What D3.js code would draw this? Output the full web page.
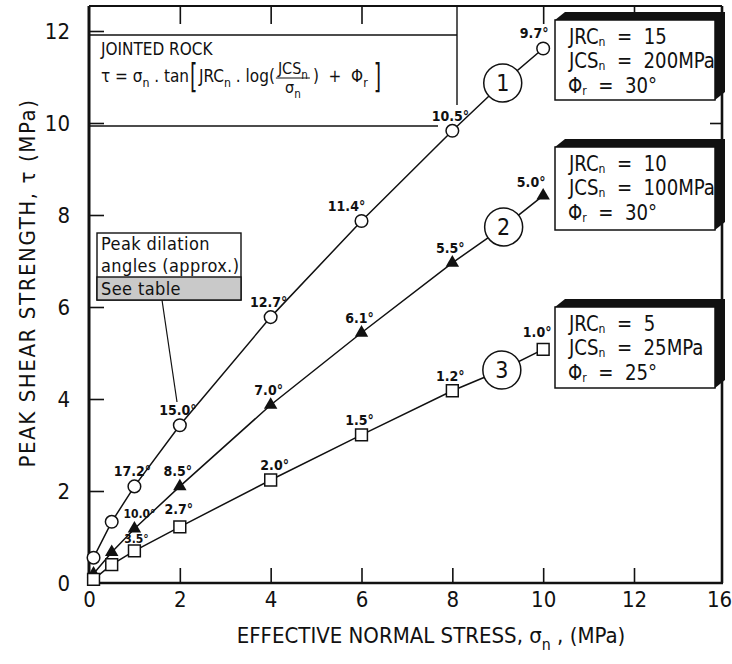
<!DOCTYPE html>
<html><head><meta charset="utf-8">
<script src="https://cdn.jsdelivr.net/npm/d3@7"></script>
<style>
body{margin:0;background:#fff}
svg{display:block}
text{font-family:'Liberation Sans Narrow','DejaVu Sans Condensed','Liberation Sans',sans-serif;font-stretch:condensed;white-space:pre;fill:#111}
</style>
</head><body>
<svg id="c" width="732" height="664"></svg>
<script>
// ---------------- data ----------------
const sigmaN = [0.1, 0.5, 1, 2, 4, 6, 8, 10];
const tau1 = [0.55, 1.33, 2.10, 3.43, 5.78, 7.87, 9.83, 11.62];
const tau2 = [0.20, 0.67, 1.18, 2.10, 3.87, 5.44, 6.96, 8.42];
const tau3 = [0.08, 0.40, 0.70, 1.22, 2.24, 3.22, 4.18, 5.08];
const angles1 = ["", "", "17.2°", "15.0°", "12.7°", "11.4°", "10.5°", "9.7°"];
const angles2 = ["", "", "10.0°", "8.5°", "7.0°", "6.1°", "5.5°", "5.0°"];
const angles3 = ["", "", "3.5°", "2.7°", "2.0°", "1.5°", "1.2°", "1.0°"];
const curveIds = ["1", "2", "3"];
const curveIdX = [9.11, 9.13, 9.09];
const curveIdY = [10.87, 7.74, 4.63];
const jrcN = [15, 10, 5];
const jcsN = [200, 100, 25];
const phiR = [30, 30, 25];
const xTicks = [0, 2, 4, 6, 8, 10, 12, 16];
const yTicks = [0, 2, 4, 6, 8, 10, 12];

// ---------------- setup ----------------
const svg = d3.select("#c");
const x = d3.scaleLinear().domain([0, 12, 16]).range([89, 634, 722]);
const y = d3.scaleLinear().domain([0, 12]).range([583, 31]);
const TOP = 6;

function rich(parent, px, py, parts, size, anchor) {
  const t = parent.append("text").attr("x", px).attr("y", py)
    .attr("font-size", size).attr("text-anchor", anchor || "start");
  let shift = 0;
  parts.forEach(p => {
    const s = typeof p === "string" ? {t: p} : p;
    const target = s.sub ? size * 0.32 : 0;
    const ts = t.append("tspan").text(s.t).attr("dy", target - shift);
    if (s.sub) ts.attr("font-size", size * 0.72);
    shift = target;
  });
  return t;
}

// ---------------- axes ----------------
const gx = svg.append("g").attr("transform", `translate(0,${y(0)})`)
  .call(d3.axisBottom(x).tickValues(xTicks).tickSizeInner(-15).tickSizeOuter(0).tickPadding(8).tickFormat(d3.format("d")));
gx.select(".domain").remove();
gx.selectAll(".tick line").attr("stroke", "#111").attr("stroke-width", 1.6)
  .filter(d => d === 0 || d === 16).remove();
gx.selectAll(".tick text").attr("font-size", 22).attr("font-family", null)
  .filter(d => d === 16).attr("dx", -3);

const gy = svg.append("g").attr("transform", `translate(${x(0)},0)`)
  .call(d3.axisLeft(y).tickValues(yTicks).tickSizeInner(-15).tickSizeOuter(0).tickPadding(19).tickFormat(d3.format("d")));
gy.select(".domain").remove();
gy.selectAll(".tick line").attr("stroke", "#111").attr("stroke-width", 1.6)
  .filter(d => d === 0).remove();
gy.selectAll(".tick text").attr("font-size", 22).attr("font-family", null);

const gt = svg.append("g").attr("transform", `translate(0,${TOP})`)
  .call(d3.axisTop(x).tickValues([2, 4, 6, 10, 12]).tickSizeInner(-18).tickSizeOuter(0).tickFormat(""));
gt.select(".domain").remove();
gt.selectAll(".tick line").attr("stroke", "#111").attr("stroke-width", 1.6);

const gr = svg.append("g").attr("transform", `translate(${x(16)},0)`)
  .call(d3.axisRight(y).tickValues([10]).tickSizeInner(-12).tickSizeOuter(0).tickFormat(""));
gr.select(".domain").remove();
gr.selectAll(".tick line").attr("stroke", "#111").attr("stroke-width", 1.6);

// frame
const frame = svg.append("g").attr("stroke", "#111").attr("fill", "none");
frame.append("line").attr("x1", x(0)).attr("x2", x(0)).attr("y1", TOP).attr("y2", y(0) + 1).attr("stroke-width", 3);
frame.append("line").attr("x1", x(0) - 1).attr("x2", x(16) + 1).attr("y1", y(0)).attr("y2", y(0)).attr("stroke-width", 2.6);
frame.append("line").attr("x1", x(16)).attr("x2", x(16)).attr("y1", TOP).attr("y2", y(0)).attr("stroke-width", 2.6);
frame.append("line").attr("x1", x(0)).attr("x2", x(16)).attr("y1", TOP).attr("y2", TOP).attr("stroke-width", 1.8);

// axis titles
rich(svg, 431, 643, ["EFFECTIVE NORMAL STRESS, σ", {t: "n", sub: true}, " , (MPa)"], 22, "middle");
const yt = svg.append("g").attr("transform", "translate(35,283) rotate(-90)");
rich(yt, 0, 0, ["PEAK SHEAR STRENGTH, τ (MPa)"], 22, "middle").attr("letter-spacing", 1.6);

// ---------------- formula box ----------------
const fb = svg.append("g").attr("stroke", "#111").attr("stroke-width", 1.4);
fb.append("line").attr("x1", x(0)).attr("x2", 457).attr("y1", 35).attr("y2", 35);
fb.append("line").attr("x1", 457).attr("x2", 457).attr("y1", TOP).attr("y2", 105);
fb.append("line").attr("x1", x(0)).attr("x2", 438).attr("y1", 126).attr("y2", 126);
rich(svg, 101, 55, ["JOINTED ROCK"], 17);
const f1 = rich(svg, 101, 82, ["τ = σ", {t: "n", sub: true}, " . tan"], 17);
let fx = 101 + f1.node().getComputedTextLength() + 1;
svg.append("text").attr("x", fx).attr("y", 88).attr("font-size", 30).text("[")
  .attr("transform", `translate(${fx},88) scale(0.7,1.15) translate(${-fx},-88)`);
fx += 9;
const f2 = rich(svg, fx, 82, ["JRC", {t: "n", sub: true}, " . log("], 17);
fx += f2.node().getComputedTextLength() + 1;
const num = rich(svg, fx + 2, 74, ["JCS", {t: "n", sub: true}], 16);
const numW = num.node().getComputedTextLength() + 4;
svg.append("line").attr("x1", fx).attr("x2", fx + numW).attr("y1", 78).attr("y2", 78).attr("stroke", "#111").attr("stroke-width", 1.2);
rich(svg, fx + numW / 2, 93, ["σ", {t: "n", sub: true}], 16, "middle");
fx += numW + 3;
const f3 = rich(svg, fx, 82, [")  +  Φ", {t: "r", sub: true}], 17);
fx += f3.node().getComputedTextLength() + 6;
svg.append("text").attr("x", fx).attr("y", 88).attr("font-size", 30).text("]")
  .attr("transform", `translate(${fx},88) scale(0.7,1.15) translate(${-fx},-88)`);

// ---------------- peak dilation box ----------------
const pb = svg.append("g");
pb.append("line").attr("x1", 162).attr("y1", 300).attr("x2", 177).attr("y2", 402).attr("stroke", "#111").attr("stroke-width", 1.2);
pb.append("rect").attr("x", 97).attr("y", 233).attr("width", 144).attr("height", 67).attr("fill", "#fff").attr("stroke", "#111").attr("stroke-width", 1.4);
pb.append("rect").attr("x", 97).attr("y", 277).attr("width", 144).attr("height", 23).attr("fill", "#c9c9c9").attr("stroke", "#111").attr("stroke-width", 1.4);
rich(pb, 101, 250, ["Peak dilation"], 18).attr("letter-spacing", 0.4);
rich(pb, 101, 272, ["angles (approx.)"], 18).attr("letter-spacing", 0.4);
rich(pb, 101, 295, ["See table"], 18).attr("letter-spacing", 0.4);

// ---------------- series ----------------
const series = [
  {tau: tau1, ang: angles1, mark: "circle"},
  {tau: tau2, ang: angles2, mark: "triangle"},
  {tau: tau3, ang: angles3, mark: "square"}
];
const nudges = [
  {5: [-13, 0], 7: [-7, 0]},
  {2: [7, -1], 7: [-10, 1]},
  {2: [4, 2], 3: [1, -3], 4: [6, 0], 7: [-4, -2]}
];
const line = d3.line().x(d => x(d[0])).y(d => y(d[1]));
series.forEach((s, si) => {
  const pts = sigmaN.map((v, i) => [v, s.tau[i]]);
  const path = pts.slice(0, 7).concat([[curveIdX[si], curveIdY[si]]], pts.slice(7));
  svg.append("path").attr("d", line(path)).attr("fill", "none").attr("stroke", "#111").attr("stroke-width", 1.5);
});
series.forEach((s, si) => {
  const g = svg.append("g");
  sigmaN.forEach((v, i) => {
    const cx = x(v), cy = y(s.tau[i]);
    if (s.mark === "circle") {
      g.append("circle").attr("cx", cx).attr("cy", cy).attr("r", 6.3).attr("fill", "#fff").attr("stroke", "#111").attr("stroke-width", 1.5);
    } else if (s.mark === "triangle") {
      g.append("path").attr("d", d3.symbol(d3.symbolTriangle, 78)()).attr("transform", `translate(${cx},${cy})`).attr("fill", "#111");
    } else {
      g.append("path").attr("d", d3.symbol(d3.symbolSquare, 140)()).attr("transform", `translate(${cx},${cy})`).attr("fill", "#fff").attr("stroke", "#111").attr("stroke-width", 1.5);
    }
    if (s.ang[i]) {
      const nd = nudges[si][i] || [0, 0];
      g.append("text").attr("x", cx - 2 + nd[0]).attr("y", cy - 10 + nd[1]).attr("text-anchor", "middle")
        .attr("font-size", (si === 1 && i === 2) || (si === 2 && i === 2) ? 12 : 14).attr("font-weight", "bold").text(s.ang[i]);
    }
  });
  // curve id circle
  const ccx = x(curveIdX[si]), ccy = y(curveIdY[si]);
  g.append("circle").attr("cx", ccx).attr("cy", ccy).attr("r", 19).attr("fill", "#fff").attr("stroke", "#111").attr("stroke-width", 1.5);
  g.append("text").attr("x", ccx).attr("y", ccy + 8).attr("text-anchor", "middle").attr("font-size", 23).text(curveIds[si]);
});

// ---------------- parameter boxes ----------------
const boxY = [[20, 100], [147, 230], [307, 388]];
const bx0 = 555, bx1 = 715, dX = 10, dY = 8;
let sx = null;
boxY.forEach((b, i) => {
  const [y0, y1] = b;
  const g = svg.append("g");
  g.append("polygon").attr("points", [[bx0, y0], [bx0 + dX, y0 - dY], [bx1 + dX, y0 - dY], [bx1 + dX, y1 - dY], [bx1, y1]].map(p => p.join(",")).join(" ")).attr("fill", "#111");
  g.append("rect").attr("x", bx0).attr("y", y0).attr("width", bx1 - bx0).attr("height", y1 - y0).attr("fill", "#fff").attr("stroke", "#111").attr("stroke-width", 1.5);
  const fs = 20, sub = 2.5, subFs = 12;
  const tg = g.append("g");
  const t = tg.append("text").attr("font-size", fs);
  const lines = [
    [0, 22, "JRC", "n", "  =  " + jrcN[i]],
    [0, 45, "JCS", "n", "  =  " + jcsN[i] + "MPa"],
    [-1, 69, "Φ", "r", "  =  " + phiR[i] + "°"]
  ];
  let w2 = 0;
  lines.forEach(([lx, ly, a, s, rest], li) => {
    const t1 = t.append("tspan").attr("x", lx).attr("y", ly).text(a);
    const t2 = t.append("tspan").attr("dy", sub).attr("font-size", subFs).text(s);
    const t3 = t.append("tspan").attr("dy", -sub).text(rest);
    if (li === 1) w2 = t1.node().getComputedTextLength() + t2.node().getComputedTextLength() + t3.node().getComputedTextLength();
  });
  if (sx === null) sx = Math.min(1.2, 146 / w2);
  // slight vertical stretch to match the tall technical lettering
  tg.attr("transform", `translate(569,${y0 + 1}) scale(${sx},1.04)`);
});
</script>
</body></html>
